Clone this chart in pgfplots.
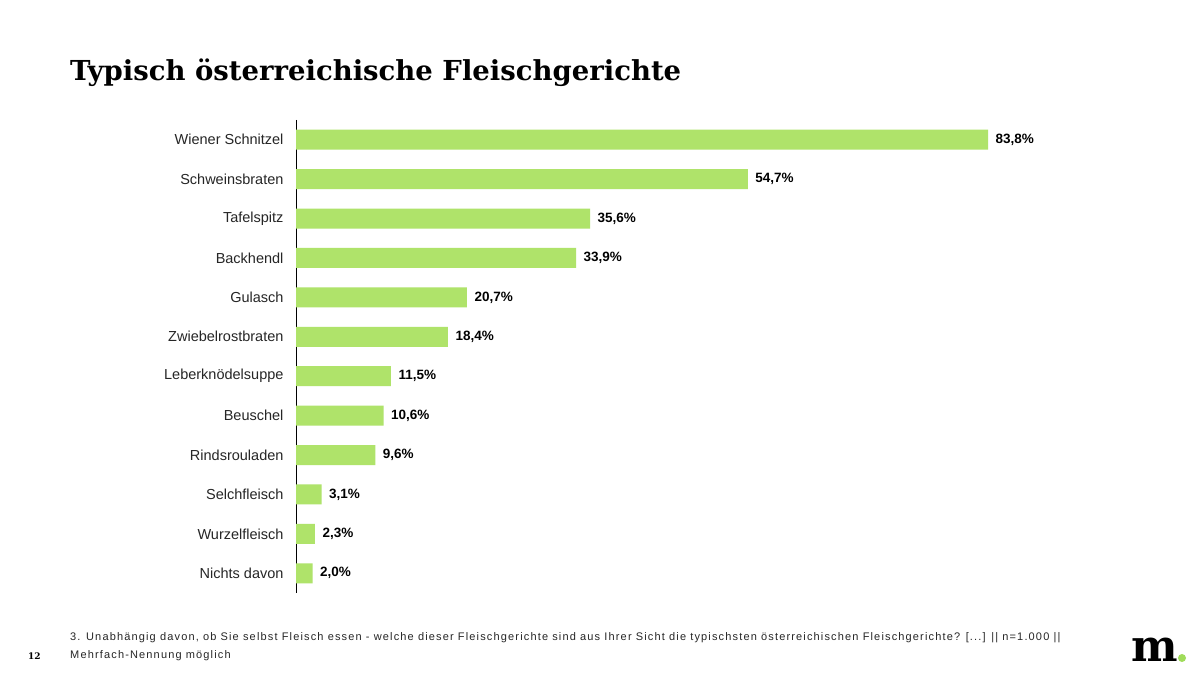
\documentclass[border=0pt]{standalone}
\usepackage{fontspec}
\setmainfont{Liberation Sans}
\newfontfamily\titlefont{DejaVu Serif}
\usepackage{pgfplots}
\pgfplotsset{compat=1.18}
\definecolor{barGreen}{RGB}{175,227,106}
\definecolor{dotGreen}{RGB}{160,220,90}
\begin{document}
\begin{tikzpicture}[x=1pt,y=1pt]
\useasboundingbox[fill=white] (0,0) rectangle (1203,677);
% title
\node[anchor=base west,inner sep=0pt,font=\titlefont\bfseries\fontsize{27.5}{31}\selectfont] at (70,596) {Typisch österreichische Fleischgerichte};
\begin{axis}[
  at={(296pt,84pt)}, anchor=south west,
  scale only axis, width=826pt, height=473pt,
  xmin=0, xmax=100,
  ymin=-0.5, ymax=11.5, y dir=reverse,
  axis x line=none,
  axis y line*=left,
  y axis line style={-,black,line width=1pt},
  ytick={0,...,11},
  yticklabels={Wiener Schnitzel,Schweinsbraten,Tafelspitz,Backhendl,Gulasch,Zwiebelrostbraten,Leberknödelsuppe,Beuschel,Rindsrouladen,Selchfleisch,Wurzelfleisch,Nichts davon},
  major tick length=0pt,
  yticklabel style={font=\fontsize{14.5}{16}\selectfont, text=black!85, xshift=-9pt},
  xbar, bar width=20pt,
  bar shift=0pt,
  /pgf/number format/assume math mode=true,
  nodes near coords={\pgfmathprintnumber[fixed,fixed zerofill,precision=1,use comma]{\pgfplotspointmeta}\%},
  nodes near coords style={font=\bfseries\fontsize{13.5}{15}\selectfont, anchor=west, xshift=4pt},
  point meta=x,
  clip=false,
]
\addplot[fill=barGreen, draw=none] coordinates {
  (83.8,0) (54.7,1) (35.6,2) (33.9,3) (20.7,4) (18.4,5)
  (11.5,6) (10.6,7) (9.6,8) (3.1,9) (2.3,10) (2.0,11)
};
\end{axis}
% footer
\node[anchor=base west,inner sep=0pt,font=\fontsize{11}{13}\selectfont\addfontfeature{LetterSpace=10.5},text=black!85] at (70,36) {3. Unabhängig davon, ob Sie selbst Fleisch essen - welche dieser Fleischgerichte sind aus Ihrer Sicht die typischsten österreichischen Fleischgerichte? [...] || n=1.000 ||};
\node[anchor=base west,inner sep=0pt,font=\fontsize{11}{13}\selectfont\addfontfeature{LetterSpace=10.5},text=black!85] at (70,18) {Mehrfach-Nennung möglich};
\node[anchor=base west,inner sep=0pt,font=\titlefont\bfseries\fontsize{9}{11}\selectfont] at (28,17) {12};
% logo
\node[anchor=base west,inner sep=0pt,font=\titlefont\bfseries\fontsize{44}{46}\selectfont] at (1131,15) {m};
\fill[dotGreen] (1182,19) circle (4);
\end{tikzpicture}
\end{document}
